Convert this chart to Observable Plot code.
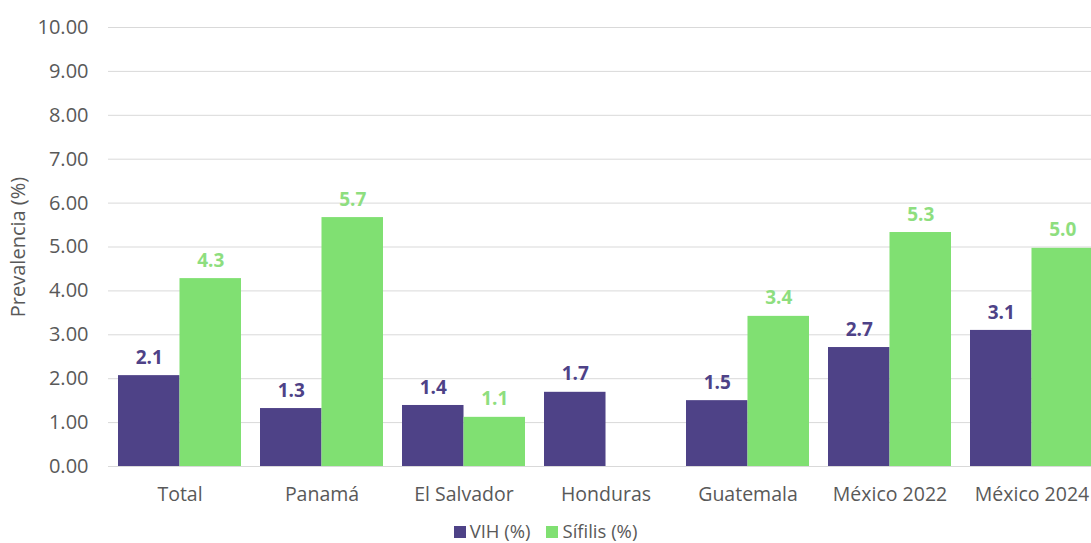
<!DOCTYPE html>
<html>
<head>
<meta charset="utf-8">
<script src="https://cdn.jsdelivr.net/npm/d3@7"></script>
<script src="https://cdn.jsdelivr.net/npm/@observablehq/plot@0.6"></script>
<style>
  body { margin: 0; background: #fff; font-family: "Open Sans", sans-serif; }
  #chart svg { display: block; }
  .legend { display: flex; justify-content: center; align-items: center; gap: 16px; height: 25px; font-size: 18.5px; color: #595959; padding-left: 0px; }
  .legend span.sw { display: inline-block; width: 12px; height: 12px; margin-right: 4px; vertical-align: 0px; }
</style>
</head>
<body>
<div id="chart"></div>
<script>
const categories = ["Total", "Panamá", "El Salvador", "Honduras", "Guatemala", "México 2022", "México 2024"];
const vih = [2.07, 1.32, 1.39, 1.69, 1.50, 2.71, 3.10];
const sifilis = [4.28, 5.67, 1.12, null, 3.42, 5.33, 4.97];
const series = ["VIH (%)", "Sífilis (%)"];
const colors = ["#4e4287", "#80e072"];
const labelColors = ["#4e4287", "#8ede7f"];
const yTicks = [0, 1, 2, 3, 4, 5, 6, 7, 8, 9, 10];
const yTitle = "Prevalencia (%)";

const data = [];
categories.forEach((c, i) => {
  data.push({cat: c, s: series[0], v: vih[i]});
  if (sifilis[i] != null) data.push({cat: c, s: series[1], v: sifilis[i]});
});

const W = 1091, H = 518;
const xRange = [118, 1093];
const pad = 0.134;
const step = (xRange[1] - xRange[0]) / (categories.length - pad);
const bw = step * (1 - pad);
const half = bw / 2;

const vData = data.filter(d => d.s === series[0]);
const sData = data.filter(d => d.s === series[1]);

const chart = Plot.plot({
  width: W,
  height: H,
  marginLeft: 108,
  marginRight: 0,
  marginTop: 27,
  marginBottom: 52,
  style: {fontFamily: "'Open Sans', sans-serif", fontSize: "19px", color: "#595959", background: "#fff"},
  x: {domain: categories, range: xRange, paddingInner: pad, paddingOuter: 0, label: null},
  y: {domain: [0, 10], label: null},
  marks: [
    Plot.ruleY(yTicks, {stroke: "#d9d9d9", strokeWidth: 1}),
    Plot.axisY({ticks: yTicks, tickFormat: d3.format(".2f"), tickSize: 0, tickPadding: 20, fontSize: 20, fill: "#595959", label: null}),
    Plot.text([yTitle], {frameAnchor: "left", textAnchor: "middle", rotate: -90, dx: -90, fontSize: 20, fill: "#595959"}),
    Plot.axisX({tickSize: 0, tickPadding: 21, fontSize: 19.5, fill: "#595959", label: null}),
    Plot.barY(vData, {x: "cat", y: "v", fill: colors[0], insetRight: half}),
    Plot.barY(sData, {x: "cat", y: "v", fill: colors[1], insetLeft: half}),
    Plot.text(vData, {x: "cat", y: "v", text: d => d.v.toFixed(1), dx: -half / 2, dy: -18, fill: labelColors[0], fontWeight: "bold", fontSize: 19}),
    Plot.text(sData, {x: "cat", y: "v", text: d => d.v.toFixed(1), dx: half / 2, dy: -18, fill: labelColors[1], fontWeight: "bold", fontSize: 19})
  ]
});
document.getElementById("chart").appendChild(chart);

const legend = document.createElement("div");
legend.className = "legend";
series.forEach((s, i) => {
  const item = document.createElement("div");
  item.innerHTML = `<span class="sw" style="background:${colors[i]}"></span>${s}`;
  legend.appendChild(item);
});
document.body.appendChild(legend);
</script>
</body>
</html>
